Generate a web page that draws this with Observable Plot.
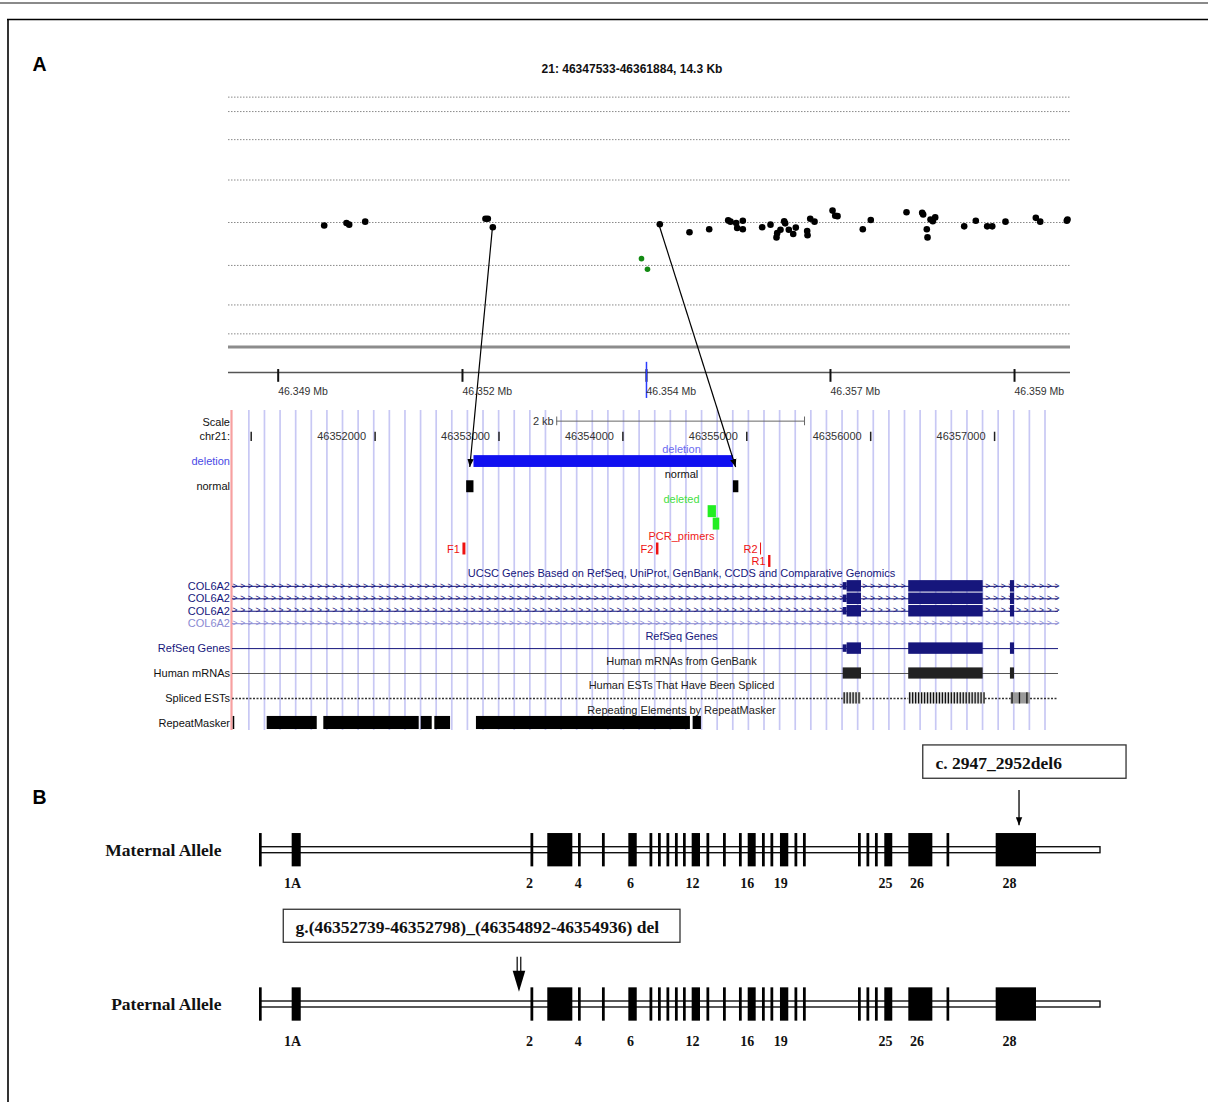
<!DOCTYPE html>
<html>
<head>
<meta charset="utf-8">
<script src="https://cdn.jsdelivr.net/npm/d3@7"></script>
<script src="https://cdn.jsdelivr.net/npm/@observablehq/plot@0.6"></script>
<style>
  html,body{margin:0;padding:0;background:#fff;}
  #fig{position:relative;width:1208px;height:1102px;overflow:hidden;background:#fff;}
  #fig > svg{position:absolute;left:0;}
</style>
</head>
<body>
<div id="fig"></div>
<script>
const W = 1208, H = 1102;
const SANS = "'Liberation Sans', Arial, sans-serif";
const SERIF = "'Liberation Serif', 'Times New Roman', serif";

// ---------------- Panel A (top): probe copy-number track ----------------
const regionTitle = "21: 46347533-46361884, 14.3 Kb";
const regionDomain = [46347533, 46361884];
const gridLevels = [2.95, 2.61, 1.95, 1.0, 0, -1.01, -1.94, -2.62];
const probePos = [46349164,46349544,46349590,46349863,46351913,46351953,46352038,46354884,46355390,46355726,46356050,46356089,46356186,46356203,46356299,46356299,46356629,46356771,46356873,46356885,46356941,46357004,46357021,46357083,46357158,46357202,46357396,46357402,46357448,46357521,46357828,46357874,46357913,46358344,46358480,46359089,46359356,46359373,46359435,46359447,46359498,46359537,46359578,46360072,46360270,46360464,46360550,46360776,46361293,46361368,46361821,46361833];
const probeLevel = [-0.07,-0.01,-0.05,0.02,0.09,0.09,-0.11,-0.04,-0.23,-0.16,0.05,0.02,-0.01,-0.13,0.04,-0.16,-0.11,-0.05,-0.35,-0.25,-0.17,0.03,-0.02,-0.17,-0.27,-0.12,-0.2,-0.3,0.09,0.02,0.28,0.16,0.15,-0.16,0.06,0.24,0.23,0.19,-0.16,-0.35,0.07,0.03,0.12,-0.09,0.04,-0.09,-0.09,0.02,0.11,0.02,0.04,0.07];
const delProbePos = [46354572, 46354674];
const delProbeLevel = [-0.85, -1.10];
const mbTickPos = [46348380, 46351521, 46354657, 46357793, 46360930];
const mbTickLabels = ["46.349 Mb", "46.352 Mb", "46.354 Mb", "46.357 Mb", "46.359 Mb"];
const baseLevel = -2.93, axisLevel = -3.53, tickSpan = [-3.46, -3.76], tickLabelLevel = -3.99;
const markerPos = 46354657, markerSpan = [-3.29, -4.14];
const breakpointProbes = [6, 7]; // probes linked to the deletion ends

// ---------------- Panel A (bottom): genome browser ----------------
const browserDomain = [46350849, 46357516];
const guideStart = 46350981, guideStep = 126;
const chrTicks = [46351000, 46352000, 46353000, 46354000, 46355000, 46356000, 46357000];
const chrTickLabels = ["", "46352000", "46353000", "46354000", "46355000", "46356000", "46357000"];
const scaleBar = [46353466, 46355466];
const scaleBarLabel = "2 kb";
const deletionSeg = [46352798, 46354892];
const normalStarts = [46352739, 46354892];
const normalEnds = [46352798, 46354936];
const deletedStarts = [46354688, 46354729];
const deletedEnds = [46354755, 46354782];
const deletedRows = [7, 8];
const primerNames = ["F1", "F2", "R2", "R1"];
const primerStarts = [46352709, 46354271, 46355111, 46355176];
const primerEnds = [46352733, 46354291, 46355119, 46355195];
const primerRows = [10, 10, 10, 11];
const utrSeg = [46355778, 46355810];
const exonStarts = [46355810, 46356307, 46357128];
const exonEnds = [46355926, 46356908, 46357161];
const estStarts = [46355778, 46356307, 46357133];
const estEnds = [46355926, 46356922, 46357289];
const estShade = ["#d8d8d8", "#d8d8d8", "#9a9a9a"];
const repeatStarts = [46351129, 46351586, 46352372, 46352482, 46352818, 46354567];
const repeatEnds = [46351533, 46352356, 46352461, 46352609, 46354545, 46354634];
const ucscGeneRows = [13, 14, 15, 16];
const ucscGeneHasExons = [true, true, true, false];
const trackTitleText = ["deletion", "normal", "deleted", "PCR_primers",
  "UCSC Genes Based on RefSeq, UniProt, GenBank, CCDS and Comparative Genomics",
  "RefSeq Genes", "Human mRNAs from GenBank", "Human ESTs That Have Been Spliced",
  "Repeating Elements by RepeatMasker"];
const trackTitleRow = [2, 4, 6, 9, 12, 17, 19, 21, 23];
const trackTitleColor = ["#6b6bf0", "#111", "#44e044", "#ee2020", "#16167c", "#16167c", "#222", "#222", "#222"];
const trackTitleX = 46354473;
const sideLabelText = ["Scale", "chr21:", "deletion", "normal", "COL6A2", "COL6A2", "COL6A2", "COL6A2", "RefSeq Genes", "Human mRNAs", "Spliced ESTs", "RepeatMasker"];
const sideLabelRow = [-0.15, 1.0, 3, 5, 13, 14, 15, 16, 18, 20, 22, 24];
const sideLabelColor = ["#111", "#111", "#4a4ae6", "#111", "#16167c", "#16167c", "#16167c", "#8a8ad2", "#16167c", "#111", "#111", "#111"];

// ---------------- Panel B: exon schematic ----------------
const alleleNames = ["Maternal Allele", "Paternal Allele"];
const alleleRows = [0, 1];
const exonStartU = [-0.12, 3.77, 32.2, 34.2, 37.86, 40.71, 43.85, 46.37, 47.38, 48.39, 49.4, 50.36, 51.39, 53.15, 55.12, 57.02, 58.06, 59.76, 60.77, 61.9, 63.63, 64.64, 71.19, 72.2, 73.21, 74.32, 77.18, 81.73, 87.58];
const exonEndU   = [0.2, 4.85, 32.53, 37.18, 38.18, 41.04, 44.85, 46.7, 47.71, 48.72, 49.73, 50.68, 52.38, 53.48, 55.45, 57.35, 59.01, 60.09, 61.1, 62.89, 63.96, 64.97, 71.52, 72.53, 73.54, 75.27, 80.04, 82.05, 92.38];
const exonLabelText = ["1A", "2", "4", "6", "12", "16", "19", "25", "26", "28"];
const exonLabelX = [3.81, 32.02, 37.82, 44.05, 51.43, 57.94, 61.94, 74.4, 78.15, 89.17];
const exonLabelOffset = [0.218, 0.24];
const mutationText = ["c. 2947_2952del6", "g.(46352739-46352798)_(46354892-46354936) del"];
const mutationBoxX1 = [78.9, 2.77], mutationBoxX2 = [103.1, 50.0];
const mutationBoxY1 = [-0.679, 0.386], mutationBoxY2 = [-0.463, 0.600];
const mutationTextX = [80.36, 4.17], mutationTextY = [-0.56, 0.499];
const mutationArrowX = [90.36, 30.83], mutationArrowY1 = [-0.387, 0.693], mutationArrowY2 = [-0.158, 0.92];

// =============== build ===============
const fig = document.getElementById("fig");

// ---- Plot 1
const probes = probePos.map((p, i) => ({pos: p, level: probeLevel[i]}));
const delProbes = delProbePos.map((p, i) => ({pos: p, level: delProbeLevel[i]}));
const mbTicks = mbTickPos.map((p, i) => ({pos: p, label: mbTickLabels[i]}));
const top1 = 40;
const p1 = Plot.plot({
  width: W, height: 370,
  marginLeft: 228, marginRight: 138, marginTop: 0, marginBottom: 0,
  x: {domain: regionDomain},
  y: {domain: [-4.2, 3.2], range: [182 + 4.2 * 42.5, 182 - 3.2 * 42.5]},
  axis: null,
  style: {background: "transparent", overflow: "visible", fontFamily: SANS},
  marks: [
    Plot.ruleY(gridLevels, {stroke: "#8a8a8a", strokeWidth: 1, strokeDasharray: "1.5,1.5"}),
    Plot.ruleY([baseLevel], {stroke: "#8c8c8c", strokeWidth: 3}),
    Plot.ruleY([axisLevel], {stroke: "#555", strokeWidth: 1.5}),
    Plot.ruleX(mbTicks, {x: "pos", y1: () => tickSpan[0], y2: () => tickSpan[1], stroke: "#111", strokeWidth: 2}),
    Plot.ruleX([markerPos], {y1: () => markerSpan[0], y2: () => markerSpan[1], stroke: "#2a3cff", strokeWidth: 1.5}),
    Plot.text(mbTicks, {x: "pos", y: () => tickLabelLevel, text: "label", textAnchor: "start", fontSize: 10.5, fill: "#333"}),
    Plot.dot(probes, {x: "pos", y: "level", r: 3.3, fill: "#000", stroke: "none"}),
    Plot.dot(delProbes, {x: "pos", y: "level", r: 2.8, fill: "#138a13", stroke: "none"})
  ]
});
p1.style.top = top1 + "px";
fig.appendChild(p1);

// ---- Plot 2 (browser)
const top2 = 405;
const rowPx = 12.45;
const guides = d3.range(guideStart, browserDomain[1], guideStep);
const chrTickData = chrTicks.map((p, i) => ({pos: p, label: chrTickLabels[i]}));
const normals = normalStarts.map((s, i) => ({s, e: normalEnds[i]}));
const deleted = deletedStarts.map((s, i) => ({s, e: deletedEnds[i], row: deletedRows[i]}));
const primers = primerNames.map((n, i) => ({name: n, s: primerStarts[i], e: primerEnds[i], row: primerRows[i]}));
const titles = trackTitleText.map((t, i) => ({t, row: trackTitleRow[i], c: trackTitleColor[i]}));
const sides = sideLabelText.map((t, i) => ({t, row: sideLabelRow[i], c: sideLabelColor[i]}));
const exonRows = [];
ucscGeneRows.forEach((r, k) => { if (ucscGeneHasExons[k]) exonStarts.forEach((s, i) => exonRows.push({s, e: exonEnds[i], row: r})); });
exonStarts.forEach((s, i) => exonRows.push({s, e: exonEnds[i], row: 18}));
const utrRows = [13, 14, 15, 18].map(r => ({s: utrSeg[0], e: utrSeg[1], row: r}));
const mrnas = exonStarts.map((s, i) => ({s: i === 0 ? utrSeg[0] : s, e: exonEnds[i]}));
const ests = estStarts.map((s, i) => ({s, e: estEnds[i], c: estShade[i]}));
const estStripes = [];
ests.forEach((d, i) => { d3.range(d.s + 8, d.e, i === 2 ? 60 : 24).forEach(x => estStripes.push(x)); });
const repeats = repeatStarts.map((s, i) => ({s, e: repeatEnds[i]}));
const chevrons = [];
ucscGeneRows.forEach((r, k) => d3.range(browserDomain[0] + 20, browserDomain[1], 62).forEach(x => chevrons.push({x, row: r, c: k === 3 ? "#8a8ad2" : "#16167c"})));

const p2 = Plot.plot({
  width: W, height: 335,
  marginLeft: 232, marginRight: 150, marginTop: 0, marginBottom: 0,
  x: {domain: browserDomain},
  y: {domain: [-1.2, 24.6], range: [(424 - top2) - 1.2 * rowPx, (424 - top2) + 24.6 * rowPx]},
  axis: null,
  style: {background: "transparent", overflow: "visible", fontFamily: SANS},
  marks: [
    Plot.ruleX(guides, {y1: () => -1.12, y2: () => 24.58, stroke: "#c8c8f4", strokeWidth: 1.7}),
    Plot.ruleX([browserDomain[0]], {y1: () => -1.12, y2: () => 24.58, stroke: "#f7a0a0", strokeWidth: 2.2, dx: -1}),
    // scale bar + chromosome ruler
    Plot.ruleY([-0.27], {x1: () => scaleBar[0], x2: () => scaleBar[1], stroke: "#666", strokeWidth: 1}),
    Plot.ruleX(scaleBar, {y1: () => -0.6, y2: () => 0.1, stroke: "#666", strokeWidth: 1}),
    Plot.text([scaleBar[0]], {x: d => d, y: () => -0.27, text: () => scaleBarLabel, textAnchor: "end", dx: -3, fontSize: 11, fill: "#333"}),
    Plot.ruleX(chrTicks, {y1: () => 0.62, y2: () => 1.37, stroke: "#222", strokeWidth: 1.5}),
    Plot.text(chrTickData, {x: "pos", y: () => 1.0, text: "label", textAnchor: "end", dx: -9, fontSize: 11, fill: "#333"}),
    // custom tracks
    Plot.rect([deletionSeg], {x1: d => d[0], x2: d => d[1], y1: () => 2.5, y2: () => 3.45, fill: "#1010f0"}),
    Plot.rect(normals, {x1: "s", x2: "e", y1: () => 4.52, y2: () => 5.48, fill: "#000"}),
    Plot.rect(deleted, {x1: "s", x2: "e", y1: d => d.row - 0.48, y2: d => d.row + 0.48, fill: "#22ee22"}),
    Plot.rect(primers, {x1: "s", x2: "e", y1: d => d.row - 0.48, y2: d => d.row + 0.48, fill: "#ee1111"}),
    Plot.text(primers, {x: "s", y: "row", text: "name", textAnchor: "end", dx: -3, fontSize: 11, fill: "#ee1111"}),
    // gene tracks
    Plot.ruleY(ucscGeneRows, {stroke: (d, i) => i === 3 ? "#8a8ad2" : "#16167c", strokeWidth: 1}),
    Plot.text(chevrons, {x: "x", y: "row", text: () => ">", fill: "c", fontSize: 8.5, dy: -0.5}),
    Plot.ruleY([18], {stroke: "#16167c", strokeWidth: 1}),
    Plot.ruleY([20], {stroke: "#555", strokeWidth: 1}),
    Plot.ruleY([22], {stroke: "#333", strokeWidth: 1.5, strokeDasharray: "2,1.5"}),
    Plot.rect(utrRows, {x1: "s", x2: "e", y1: d => d.row - 0.3, y2: d => d.row + 0.3, fill: "#16167c"}),
    Plot.rect(exonRows, {x1: "s", x2: "e", y1: d => d.row - 0.46, y2: d => d.row + 0.46, fill: "#16167c"}),
    Plot.rect(mrnas, {x1: "s", x2: "e", y1: () => 19.55, y2: () => 20.45, fill: "#222"}),
    Plot.rect(ests, {x1: "s", x2: "e", y1: () => 21.55, y2: () => 22.45, fill: "c"}),
    Plot.ruleX(estStripes, {y1: () => 21.55, y2: () => 22.45, stroke: "#111", strokeWidth: 1.3}),
    Plot.rect(repeats, {x1: "s", x2: "e", y1: () => 23.45, y2: () => 24.5, fill: "#000"}),
    Plot.ruleX([browserDomain[0]], {y1: () => 23.45, y2: () => 24.5, stroke: "#000", strokeWidth: 1.5, dx: 1}),
    // labels
    Plot.text(titles, {x: () => trackTitleX, y: "row", text: "t", fill: "c", fontSize: 11}),
    Plot.text(sides, {x: () => browserDomain[0], y: "row", text: "t", fill: "c", textAnchor: "end", dx: -2.5, fontSize: 11})
  ]
});
p2.style.top = top2 + "px";
fig.appendChild(p2);

// ---- Plot 3 (panel B)
const top3 = 740;
const alleles = alleleNames.map((n, i) => ({name: n, row: alleleRows[i]}));
const exRects = [];
alleleRows.forEach(r => exonStartU.forEach((s, i) => exRects.push({s, e: exonEndU[i], row: r})));
const exLabels = [];
alleleRows.forEach((r, k) => exonLabelText.forEach((t, i) => exLabels.push({t, x: exonLabelX[i], y: r + exonLabelOffset[k]})));
const boxes = mutationText.map((t, i) => ({t, x1: mutationBoxX1[i], x2: mutationBoxX2[i], y1: mutationBoxY1[i], y2: mutationBoxY2[i], tx: mutationTextX[i], ty: mutationTextY[i]}));
const p3 = Plot.plot({
  width: W, height: 345,
  marginLeft: 260, marginRight: 108, marginTop: 0, marginBottom: 0,
  x: {domain: [0, 100]},
  y: {domain: [0, 1], range: [109.7, 264]},
  axis: null,
  style: {background: "transparent", overflow: "visible", fontFamily: SERIF},
  marks: [
    Plot.rect(alleles, {x1: () => 0, x2: () => 100, y1: d => d.row - 0.0194, y2: d => d.row + 0.0194, fill: "#fff", stroke: "#111", strokeWidth: 1.4}),
    Plot.rect(exRects, {x1: "s", x2: "e", y1: d => d.row - 0.108, y2: d => d.row + 0.108, fill: "#000"}),
    Plot.text(exLabels, {x: "x", y: "y", text: "t", fontSize: 14, fontWeight: "bold", fill: "#111"}),
    Plot.text(alleles, {x: () => 0, y: "row", text: "name", textAnchor: "end", dx: -39, fontSize: 17.5, fontWeight: "bold", fill: "#111"}),
    Plot.rect(boxes, {x1: "x1", x2: "x2", y1: "y1", y2: "y2", fill: "#fff", stroke: "#333", strokeWidth: 1.3}),
    Plot.text(boxes, {x: "tx", y: "ty", text: "t", textAnchor: "start", fontSize: 17.5, fontWeight: "bold", fill: "#111"})
  ]
});
p3.style.top = top3 + "px";
fig.appendChild(p3);

// ---- overlay: frame, panel letters, title, connecting arrows (positions via the plots' scales)
const ov = d3.select(fig).append("svg").attr("width", W).attr("height", H).style("top", "0px").style("pointer-events", "none");
const defs = ov.append("defs");
defs.append("marker").attr("id", "ah").attr("viewBox", "0 0 10 8").attr("refX", 10).attr("refY", 4)
  .attr("markerWidth", 8).attr("markerHeight", 7).attr("markerUnits", "userSpaceOnUse").attr("orient", "auto")
  .append("path").attr("d", "M0,0 L10,4 L0,8 Z").attr("fill", "#000");

ov.append("line").attr("x1", 0).attr("x2", W).attr("y1", 3).attr("y2", 3).attr("stroke", "#8a8a8a").attr("stroke-width", 2);
ov.append("line").attr("x1", 7).attr("x2", W).attr("y1", 19.5).attr("y2", 19.5).attr("stroke", "#000").attr("stroke-width", 1.6);
ov.append("line").attr("x1", 8).attr("x2", 8).attr("y1", 19).attr("y2", H).attr("stroke", "#000").attr("stroke-width", 1.6);

ov.append("text").attr("x", 32.5).attr("y", 70.5).attr("font-family", SANS).attr("font-weight", "bold").attr("font-size", 19.5).text("A");
ov.append("text").attr("x", 32.5).attr("y", 804).attr("font-family", SANS).attr("font-weight", "bold").attr("font-size", 19.5).text("B");
ov.append("text").attr("x", 632).attr("y", 72.5).attr("text-anchor", "middle").attr("font-family", SANS).attr("font-weight", "bold").attr("font-size", 12).attr("fill", "#111").text(regionTitle);

const x1s = p1.scale("x"), y1s = p1.scale("y");
const x2s = p2.scale("x"), y2s = p2.scale("y");
const x3s = p3.scale("x"), y3s = p3.scale("y");
breakpointProbes.forEach((pi, k) => {
  const nb = (normalStarts[k] + normalEnds[k]) / 2;
  ov.append("line")
    .attr("x1", x1s.apply(probePos[pi])).attr("y1", y1s.apply(probeLevel[pi]) + top1 + 2)
    .attr("x2", x2s.apply(nb)).attr("y2", y2s.apply(3.45) + top2)
    .attr("stroke", "#000").attr("stroke-width", 1.2).attr("marker-end", "url(#ah)");
});
// panel B arrows
{
  const ax = x3s.apply(mutationArrowX[0]);
  ov.append("line").attr("x1", ax).attr("x2", ax)
    .attr("y1", y3s.apply(mutationArrowY1[0]) + top3).attr("y2", y3s.apply(mutationArrowY2[0]) + top3)
    .attr("stroke", "#000").attr("stroke-width", 1.3).attr("marker-end", "url(#ah)");
  const gx = x3s.apply(mutationArrowX[1]);
  const gy1 = y3s.apply(mutationArrowY1[1]) + top3, gy2 = y3s.apply(mutationArrowY2[1]) + top3;
  [-1.8, 1.8].forEach(o => ov.append("line").attr("x1", gx + o).attr("x2", gx + o).attr("y1", gy1).attr("y2", gy2 - 18)
    .attr("stroke", "#000").attr("stroke-width", 1.2));
  ov.append("path").attr("d", `M${gx - 6.3},${gy2 - 21} L${gx + 6.3},${gy2 - 21} L${gx},${gy2} Z`).attr("fill", "#000");
}
</script>
</body>
</html>
